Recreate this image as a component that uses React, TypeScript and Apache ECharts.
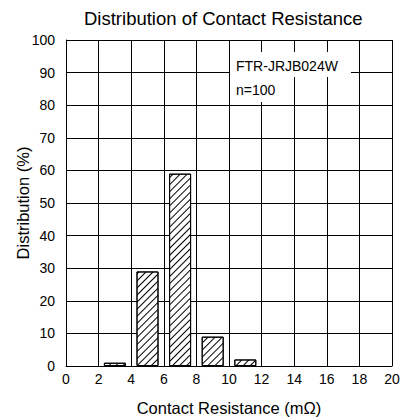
import React, { useEffect, useRef } from "react";
import * as echarts from "echarts";

const binCenters = [3, 5, 7, 9, 11];
const distribution = [1, 29, 59, 9, 2];
const xTicks = { min: 0, max: 20, interval: 2 };
const yTicks = { min: 0, max: 100, interval: 10 };
const titleText = "Distribution of Contact Resistance";
const xName = "Contact Resistance (mΩ)";
const yName = "Distribution (%)";
const noteLines = ["FTR-JRJB024W", "n=100"];

const FONT = "'Liberation Sans', Arial, sans-serif";

export default function App() {
  const ref = useRef<HTMLDivElement>(null);
  useEffect(() => {
    if (!ref.current) return;
    const chart = echarts.init(ref.current, null, { renderer: "svg" });
    const data = binCenters.map((x, i) => [x, distribution[i]]);
    chart.setOption({
      animation: false,
      backgroundColor: "#fff",
      textStyle: { fontFamily: FONT, color: "#000" },
      title: {
        text: titleText,
        left: 79,
        top: 4,
        textStyle: { fontFamily: FONT, fontSize: 18.5, fontWeight: "normal", color: "#000" },
      },
      grid: { left: 66, right: 13, top: 40, bottom: 51, outerBoundsMode: "none", containLabel: false },
      xAxis: {
        type: "value",
        min: xTicks.min,
        max: xTicks.max,
        interval: xTicks.interval,
        name: xName,
        nameLocation: "middle",
        nameGap: 33,
        nameMoveOverlap: false,
        nameTextStyle: { fontFamily: FONT, fontSize: 16.5, color: "#000" },
        axisLine: { show: true, lineStyle: { color: "#000", width: 1 } },
        axisTick: { show: false },
        axisLabel: { fontFamily: FONT, fontSize: 14, color: "#000", margin: 6 },
        splitLine: { show: true, lineStyle: { color: "#000", width: 1 } },
      },
      yAxis: {
        type: "value",
        min: yTicks.min,
        max: yTicks.max,
        interval: yTicks.interval,
        name: yName,
        nameLocation: "middle",
        nameGap: 35,
        nameMoveOverlap: false,
        nameTextStyle: { fontFamily: FONT, fontSize: 16.5, color: "#000" },
        axisLine: { show: true, lineStyle: { color: "#000", width: 1 } },
        axisTick: { show: false },
        axisLabel: { fontFamily: FONT, fontSize: 14, color: "#000", margin: 11 },
        splitLine: { show: true, lineStyle: { color: "#000", width: 1 } },
      },
      graphic: [
        {
          type: "rect",
          z: 100,
          shape: { x: 230, y: 52, width: 121, height: 25 },
          style: { fill: "#fff" },
        },
        {
          type: "rect",
          z: 100,
          shape: { x: 230, y: 77, width: 48, height: 25 },
          style: { fill: "#fff" },
        },
        {
          type: "text",
          x: 236,
          y: 66,
          z: 101,
          style: {
            text: noteLines[0],
            font: `14px ${FONT}`,
            fill: "#000",
            verticalAlign: "middle",
          },
        },
        {
          type: "text",
          x: 236,
          y: 90,
          z: 101,
          style: {
            text: noteLines[1],
            font: `14px ${FONT}`,
            fill: "#000",
            verticalAlign: "middle",
          },
        },
      ],
      series: [
        {
          type: "bar",
          data,
          barWidth: 22,
          itemStyle: {
            color: "#fff",
            borderColor: "#000",
            borderWidth: 1,
            decal: {
              symbol: "rect",
              symbolSize: 1,
              dashArrayX: [1, 0],
              dashArrayY: [1, 4],
              rotation: -Math.PI / 4,
              color: "#000",
              backgroundColor: "#fff",
            },
          },
          z: 5,
        },
      ],
    });
    return () => chart.dispose();
  }, []);
  return (
    <div
      ref={ref}
      style={{ position: "fixed", left: 0, top: 0, width: 405, height: 417 }}
    />
  );
}
